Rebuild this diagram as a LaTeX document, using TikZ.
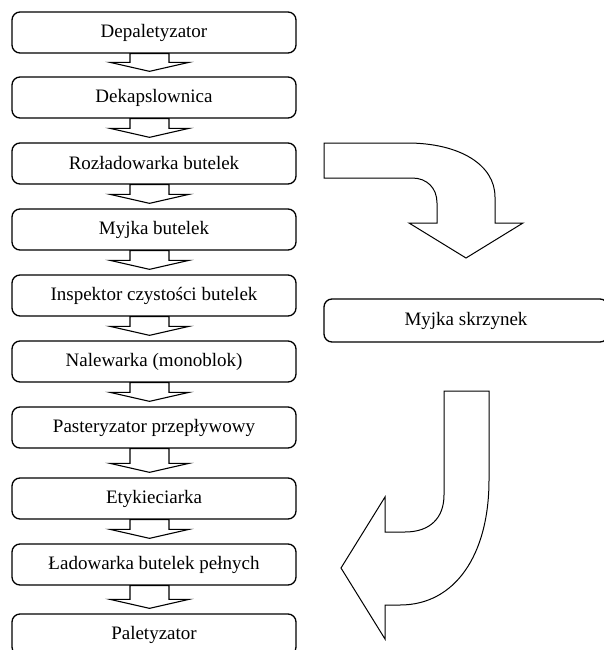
\documentclass[tikz,border=0pt]{standalone}
\usepackage{fontspec}
\setmainfont{Liberation Serif}
\usetikzlibrary{calc}
\begin{document}
\begin{tikzpicture}[x=1pt,y=-1pt,
  box/.style={draw,line width=1.3pt,rounded corners=8pt,minimum width=284pt,minimum height=41pt,inner sep=0pt,font=\fontsize{19}{23}\selectfont},
  blk/.style={draw,line width=1.1pt,fill=white,line join=miter},
  bigarrow/.style={draw,line width=1pt,fill=white,line join=miter}]
\useasboundingbox (0,0) rectangle (603,650);
\node[box] (b1) at (154,32.5) {Depaletyzator};
\node[box] (b2) at (154,97.5) {Dekapslownica};
\node[box] (b3) at (154,163.5) {Rozładowarka butelek};
\node[box] (b4) at (154,229.5) {Myjka butelek};
\node[box] (b5) at (154,295.5) {Inspektor czystości butelek};
\node[box] (b6) at (154,361.5) {Nalewarka (monoblok)};
\node[box] (b7) at (154,427.5) {Pasteryzator przepływowy};
\node[box] (b8) at (154,498.5) {Etykieciarka};
\node[box] (b9) at (154,564.5) {Ładowarka butelek pełnych};
\node[box] (b10) at (154,634.5) {Paletyzator};
\node[box,minimum height=43pt] (m) at (466,320.5) {Myjka skrzynek};
\foreach \a/\b in {b1/b2,b2/b3,b3/b4,b4/b5,b5/b6,b6/b7,b7/b8,b8/b9,b9/b10}{
  \draw[blk] let \p1=(\a.south), \p2=(\b.north) in
    (\x1-24pt,\y1) -- (\x1-24pt,\y2+14pt) -- (\x1-44pt,\y2+14pt) -- (\x1-4.5pt,\y2+5pt)
    -- (\x1+35pt,\y2+14pt) -- (\x1+15pt,\y2+14pt) -- (\x1+15pt,\y1) -- cycle;
}
% curved arrow towards crate washer
\draw[bigarrow] (324,143) -- (407,143) .. controls (460,143) and (495,165) .. (495,197)
  -- (495,223) -- (523,223) -- (466,258) -- (409,223) -- (437,223) -- (437,203)
  .. controls (437,188) and (427,178) .. (412,178) -- (324,178) -- cycle;
% J arrow back to loader
\draw[bigarrow] (444,391) -- (489,391) -- (489,480) .. controls (489,555) and (455,605) .. (400,605)
  -- (385,605) -- (385,639) -- (341,568) -- (385,497) -- (385,532) -- (405,532)
  .. controls (430,532) and (444,518) .. (444,495) -- cycle;
\end{tikzpicture}
\end{document}
